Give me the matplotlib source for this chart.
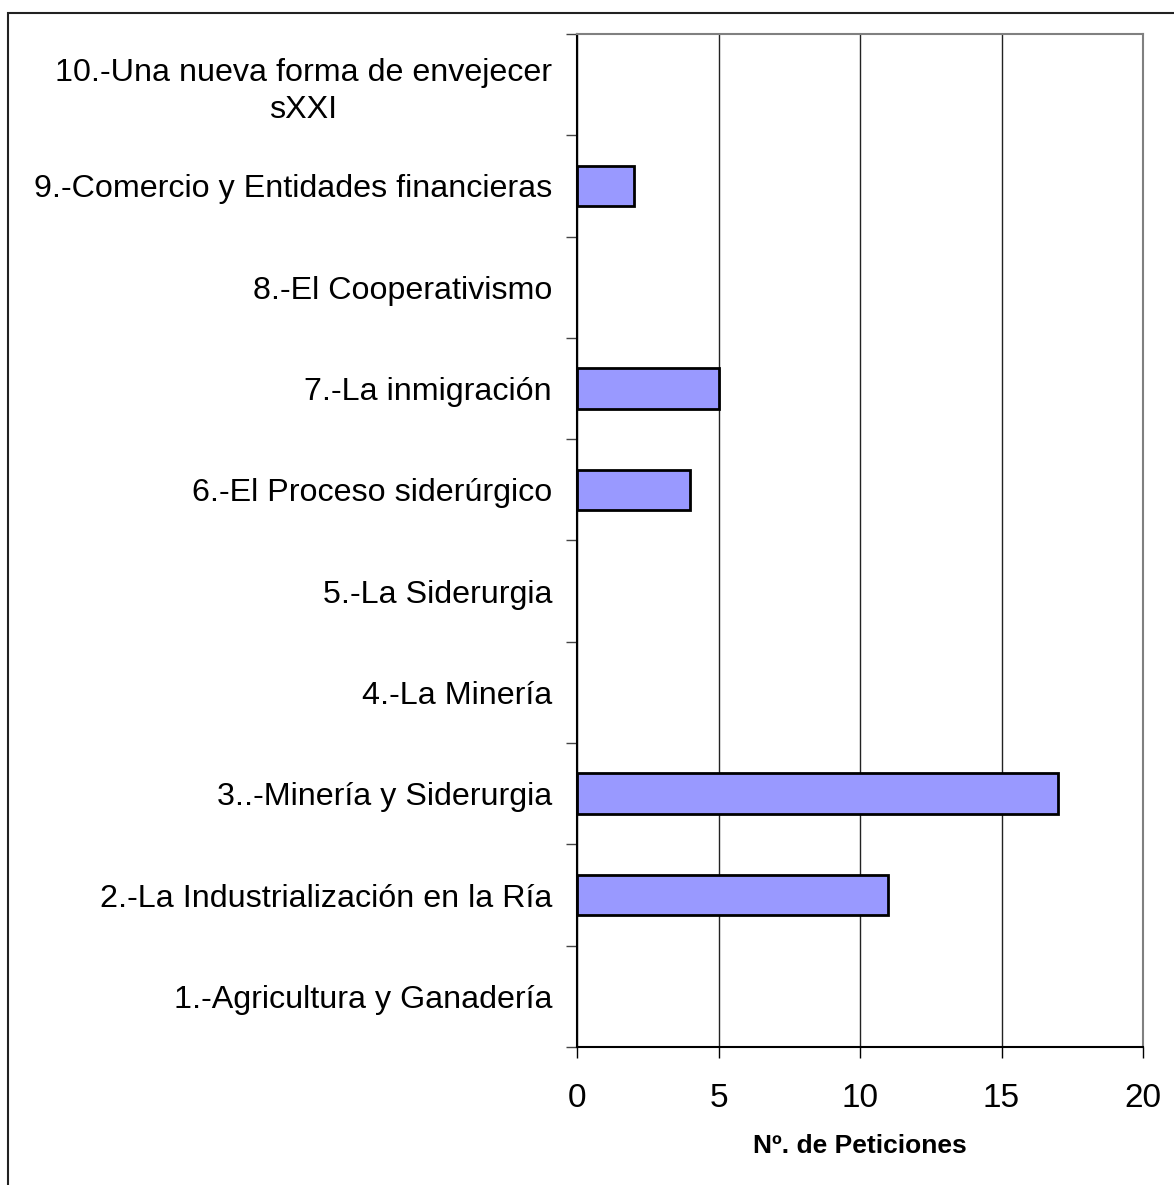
import matplotlib.pyplot as plt
from matplotlib.patches import Rectangle
from matplotlib.ticker import FixedLocator, NullFormatter

plt.rcParams["font.family"] = ["Liberation Sans", "DejaVu Sans"]

# datos
temas = [
    "1.-Agricultura y Ganadería",
    "2.-La Industrialización en la Ría",
    "3..-Minería y Siderurgia",
    "4.-La Minería",
    "5.-La Siderurgia",
    "6.-El Proceso siderúrgico",
    "7.-La inmigración",
    "8.-El Cooperativismo",
    "9.-Comercio y Entidades financieras",
    "10.-Una nueva forma de envejecer\nsXXI",
]
peticiones = [0, 11, 17, 0, 0, 4, 5, 0, 2, 0]
xticks = [0, 5, 10, 15, 20]

fig = plt.figure(figsize=(11.74, 11.85), dpi=100)
ax = fig.add_axes([0.4915, 0.1165, 0.4821, 0.8548])

pos = list(range(len(temas)))
anchos = [2 if v > 0 else 0 for v in peticiones]
ax.barh(pos, peticiones, height=0.4, color="#9999FF", edgecolor="black",
        linewidth=anchos, zorder=3)

ax.set_xlim(0, 20)
ax.set_ylim(-0.5, len(temas) - 0.5)
ax.set_xticks(xticks)
ax.set_xticklabels([str(t) for t in xticks], fontsize=24)
ax.set_yticks(pos)
ax.set_yticklabels(temas, fontsize=23.2, multialignment="center",
                   linespacing=1.3)
ax.yaxis.set_minor_locator(FixedLocator([p - 0.5 for p in range(len(temas) + 1)]))
ax.yaxis.set_minor_formatter(NullFormatter())
ax.tick_params(axis="y", which="major", length=0, pad=18)
ax.tick_params(axis="y", which="minor", length=8, width=1, color="#444444",
               direction="out")
ax.tick_params(axis="x", length=8, width=1, direction="out", pad=18)

ax.grid(axis="x", color="#222222", linewidth=1, zorder=0)
ax.set_axisbelow(True)
ax.spines["left"].set_color("black")
ax.spines["bottom"].set_color("black")
ax.spines["left"].set_linewidth(1.5)
ax.spines["bottom"].set_linewidth(1.5)
ax.spines["top"].set_color("#808080")
ax.spines["right"].set_color("#808080")
ax.spines["top"].set_linewidth(1.5)
ax.spines["right"].set_linewidth(1.5)

ax.set_xlabel("Nº. de Peticiones", fontsize=19, fontweight="bold", labelpad=14)

# marco exterior (cortado por la derecha y abajo)
fig.patches.append(Rectangle((8 / 1174, -0.05), 1.2, 1 - 13 / 1185 + 0.05,
                             transform=fig.transFigure, fill=False,
                             edgecolor="#222222", linewidth=1.5))

fig.savefig("out.png", dpi=100)
